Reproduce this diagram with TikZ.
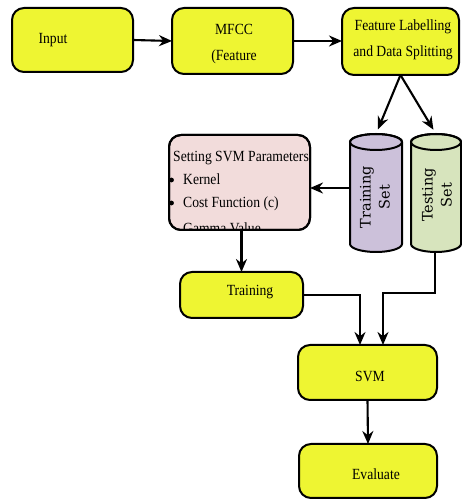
\documentclass[tikz,border=0pt]{standalone}
\usepackage{fontspec}
\setmainfont{Liberation Serif}
\newfontfamily\cylfont{DejaVu Serif}
\usetikzlibrary{arrows.meta}
\definecolor{boxyellow}{HTML}{EEF532}
\definecolor{boxpink}{HTML}{F2DCDB}
\definecolor{cylpurple}{HTML}{CCC1DA}
\definecolor{cylgreen}{HTML}{D7E4BD}
\newcommand\drawcyl[3]{%
  \filldraw[fill=#3, line width=2pt] ({#1-#2},358) -- ({#1-#2},256)
    arc[start angle=180,end angle=360,x radius=#2,y radius=8] -- ({#1+#2},358)
    arc[start angle=0,end angle=180,x radius=#2,y radius=8] -- cycle;
  \draw[line width=2pt] (#1,358) ellipse [x radius=#2, y radius=8];}
\begin{document}
\begin{tikzpicture}[x=1pt,y=1pt,
  ybox/.style={draw=black, line width=2pt, rounded corners=12pt, fill=boxyellow, inner sep=0pt, outer sep=0pt},
  pbox/.style={draw=black, line width=2pt, rounded corners=12pt, fill=boxpink, inner sep=0pt, outer sep=0pt},
  txt/.style={inner sep=0pt, xscale=0.88, font=\fontsize{15.5}{26}\selectfont},
  cyltxt/.style={inner sep=0pt, rotate=90, align=center, font=\cylfont\fontsize{14.5}{19}\selectfont},
  ghost/.style={inner sep=0pt, outer sep=0pt, minimum height=118pt},
  arr/.style={line width=2.1pt, -{Stealth[length=13pt,width=11pt]}}]
\useasboundingbox (0,0) rectangle (461,500);
% top row
\node[ybox, minimum width=121pt, minimum height=64pt] (input) at (72.5,460) {};
\node[txt] (inputT) at (53,460) {Input};
\node[ybox, minimum width=121pt, minimum height=66pt] (mfcc) at (232.5,459) {};
\node[txt, align=center] (mfccT) at (234,456) {MFCC\\(Feature};
\node[ybox, minimum width=117pt, minimum height=67pt] (fl) at (400.5,458.5) {};
\node[txt, align=center] (flT) at (403,460) {Feature Labelling\\and Data Splitting};
% cylinders
\drawcyl{376}{26}{cylpurple}
\drawcyl{436}{25}{cylgreen}
\node[ghost, minimum width=52pt] (trainc) at (376,307) {};
\node[ghost, minimum width=50pt] (testc) at (436,307) {};
\node[cyltxt] (trainT) at (375,303) {Training\\Set};
\node[cyltxt] (testT) at (437,305) {Testing\\Set};
% setting box
\node[pbox, minimum width=141pt, minimum height=95pt] (set) at (239.5,317.5) {};
\begin{scope}
  \clip[rounded corners=12pt] (set.south west) rectangle (set.north east);
  \node[txt, anchor=base west] (setT) at (173,338) {Setting SVM Parameters};
  \node[txt, anchor=base west] (k) at (183,315) {Kernel};
  \node[txt, anchor=base west] (c) at (183,292) {Cost Function (c)};
  \node[txt, anchor=base west] (g) at (183,266) {Gamma Value};
\end{scope}
\fill (171.5,320) circle (2.4);
\fill (171.5,297) circle (2.4);
\draw[line width=2pt, rounded corners=12pt] (set.south west) rectangle (set.north east);
% lower boxes
\node[ybox, minimum width=123pt, minimum height=46pt] (trn) at (241.5,205) {};
\node[txt] (trnT) at (250,208) {Training};
\node[ybox, minimum width=139pt, minimum height=55pt] (svm) at (367.5,127.5) {};
\node[txt] (svmT) at (370,124) {SVM};
\node[ybox, minimum width=138pt, minimum height=54pt] (eval) at (368,29) {};
\node[txt] (evalT) at (376,26) {Evaluate};
% connectors
\draw[arr] (input.east) -- (mfcc.west);
\draw[arr] (mfcc.east) -- (fl.west |- mfcc.east);
\draw[arr, shorten >=5pt] (fl.south) -- (trainc.north);
\draw[arr, shorten >=5pt] (fl.south) -- (testc.north);
\draw[arr] ([yshift=5pt]trainc.west) -- ([yshift=5pt]trainc.west -| set.east);
\draw[arr] ([xshift=2pt]set.south) -- ([xshift=2pt]set.south |- trn.north);
\draw[arr] (trn.east) -| ([xshift=-7.5pt]svm.north);
\coordinate (tj) at (383,207);
\draw[arr] ([xshift=-1pt]testc.south) |- (tj) -- ([xshift=15.5pt]svm.north);
\draw[arr] (svm.south) -- (eval.north);
\end{tikzpicture}
\end{document}
